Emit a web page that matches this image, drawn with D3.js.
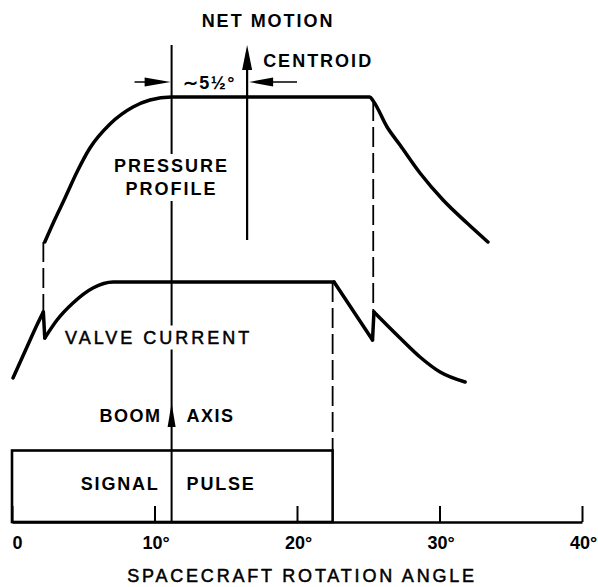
<!DOCTYPE html>
<html>
<head>
<meta charset="utf-8">
<script src="https://cdn.jsdelivr.net/npm/d3@7"></script>
<style>
  body { margin: 0; background: #fff; }
  svg text { font-family: "Liberation Sans", Arial, sans-serif; fill: #000; }
</style>
</head>
<body>
<svg></svg>
<script>
// rotation angles (deg) and relative levels (0..100)
const angleTicks = [0, 10, 20, 30, 40];
const pressureProfile = [
  [2.3, 56], [3.02, 60.6], [3.72, 64.8], [4.56, 70], [5.47, 74.8], [6.88, 79.6],
  [8.49, 83], [9.68, 84.4], [11.2, 85], [25.1, 85], [25.35, 84.2], [26.32, 79],
  [27.23, 75.4], [28.63, 69.8], [30.25, 64.4], [31.93, 59.8], [33.4, 56]
];
const valveCurrent = [
  [[0.07, 28.8], [1.05, 35], [1.75, 39.4], [2.2, 42]],
  [[2.2, 42], [2.3, 36.8]],
  [[2.3, 36.8], [3.16, 40.4], [4.28, 43.8], [5.68, 46.8], [7.09, 48], [22.6, 48]],
  [[22.6, 48], [25.3, 36.4]],
  [[25.3, 36.4], [25.4, 42]],
  [[25.4, 42], [27.23, 36.8], [28.63, 33], [30.04, 30], [31.8, 28]]
];
const pulseAngles = [0, 22.5];
const pulseLevel = 14.3;
const boomAngle = 11.2;
const centroidAngle = 16.5;
const topLevel = 95.4;
const centroidLow = 56.4;
const dimLevel = 88;
// dashed connectors: angle, from level, to level
const connectors = [[2.2, 56, 42], [22.5, 48, 14.3], [25.35, 84.2, 42]];

const svg = d3.select('svg');
const w = 598;
const h = 587;
svg.attr('width', w).attr('height', h);

const x = d3.scaleLinear().domain([0, 40]).range([12, 582]);
const y = d3.scaleLinear().domain([0, 100]).range([522, 22]);

const line = d3.line()
  .x((d) => x(d[0]))
  .y((d) => y(d[1]))
  .curve(d3.curveMonotoneX);

// dashed connectors
svg.selectAll('.conn')
  .data(connectors)
  .enter()
  .append('line')
  .attr('x1', (d) => x(d[0]))
  .attr('x2', (d) => x(d[0]))
  .attr('y1', (d) => y(d[1]))
  .attr('y2', (d) => y(d[2]))
  .attr('stroke', '#000')
  .attr('stroke-width', 1.8)
  .attr('stroke-dasharray', '20,6');

// boom axis and centroid lines
svg.append('line')
  .attr('x1', x(boomAngle)).attr('x2', x(boomAngle))
  .attr('y1', y(topLevel)).attr('y2', y(0))
  .attr('stroke', '#000').attr('stroke-width', 2);

svg.append('line')
  .attr('x1', x(centroidAngle)).attr('x2', x(centroidAngle))
  .attr('y1', y(topLevel) + 10).attr('y2', y(centroidLow))
  .attr('stroke', '#000').attr('stroke-width', 2.2);

// arrowheads: tip at (tx,ty), pointing along (dx,dy)
const head = (tx, ty, dx, dy, len, half) => {
  const bx = tx - dx * len;
  const by = ty - dy * len;
  return `M${tx},${ty}L${bx - dy * half},${by + dx * half}L${bx + dy * half},${by - dx * half}Z`;
};
svg.append('path').attr('d', head(x(centroidAngle), y(topLevel), 0, -1, 25, 5));
svg.append('path').attr('d', head(x(boomAngle), y(23.8), 0, -1, 24, 4));
svg.append('path').attr('d', head(x(boomAngle) - 1, y(dimLevel), 1, 0, 26, 4.5));
svg.append('path').attr('d', head(x(centroidAngle) + 2, y(dimLevel), -1, 0, 24, 4.5));

svg.append('line')
  .attr('x1', x(8.6)).attr('x2', x(boomAngle) - 20)
  .attr('y1', y(dimLevel)).attr('y2', y(dimLevel))
  .attr('stroke', '#000').attr('stroke-width', 1.5);
svg.append('line')
  .attr('x1', x(centroidAngle) + 20).attr('x2', x(20))
  .attr('y1', y(dimLevel)).attr('y2', y(dimLevel))
  .attr('stroke', '#000').attr('stroke-width', 1.5);

// curves
svg.append('path')
  .attr('d', line(pressureProfile))
  .attr('fill', 'none').attr('stroke', '#000')
  .attr('stroke-width', 3.5).attr('stroke-linecap', 'round');

svg.selectAll('.valve')
  .data(valveCurrent)
  .enter()
  .append('path')
  .attr('d', (d) => line(d))
  .attr('fill', 'none').attr('stroke', '#000')
  .attr('stroke-width', 3.5).attr('stroke-linecap', 'round')
  .attr('stroke-linejoin', 'round');

// signal pulse
svg.append('rect')
  .attr('x', x(pulseAngles[0]))
  .attr('y', y(pulseLevel))
  .attr('width', x(pulseAngles[1]) - x(pulseAngles[0]))
  .attr('height', y(0) - y(pulseLevel))
  .attr('fill', 'none').attr('stroke', '#000').attr('stroke-width', 2.6);

// axis
const axis = d3.axisBottom(x)
  .tickValues(angleTicks)
  .tickSizeInner(-16)
  .tickSizeOuter(0)
  .tickPadding(14)
  .tickFormat((d) => (d === 0 ? '0' : d + '°'));

const gx = svg.append('g')
  .attr('transform', `translate(0,${y(0)})`)
  .call(axis);
gx.select('.domain').attr('stroke', '#000').attr('stroke-width', 2.6);
gx.selectAll('.tick line').attr('stroke', '#000').attr('stroke-width', 2);
gx.selectAll('.tick text')
  .attr('fill', '#000')
  .attr('font-size', 18)
  .attr('font-weight', 'bold')
  .attr('font-family', '"Liberation Sans", Arial, sans-serif')
  .attr('dx', (d) => (d === 0 ? 5 : 1));

// labels
const label = (t, lx, ly, anchor, opts = {}) => {
  const g = svg.append('g');
  const txt = g.append('text')
    .attr('x', lx).attr('y', ly)
    .attr('text-anchor', anchor)
    .attr('font-size', opts.size || 18)
    .attr('font-weight', opts.weight || 'bold')
    .attr('letter-spacing', opts.ls || 1.5)
    .text(t);
  if (opts.weight === 'normal') {
    txt.attr('stroke', '#000').attr('stroke-width', 0.5);
  }
  if (opts.knock) {
    const b = txt.node().getBBox();
    g.insert('rect', 'text')
      .attr('x', b.x - 3).attr('y', b.y - 2)
      .attr('width', b.width + 6).attr('height', b.height + 4)
      .attr('fill', '#fff');
  }
  return txt;
};

label('NET MOTION', x(centroidAngle) + 21, 26.5, 'middle', { ls: 2 });
label('CENTROID', x(centroidAngle) + 16, 66.5, 'start', { ls: 2 });
label('∼5½°', (x(boomAngle) + x(centroidAngle)) / 2, 89, 'middle', { ls: 0 });
label('PRESSURE', x(boomAngle), 172, 'middle', { knock: true, ls: 2 });
label('PROFILE', x(boomAngle), 195, 'middle', { knock: true, ls: 2 });
label('VALVE CURRENT', 65, 343.5, 'start', { weight: 'normal', ls: 3, knock: true });
label('BOOM', x(boomAngle) - 10, 421.5, 'end', { ls: 1.5 });
label('AXIS', x(boomAngle) + 15, 421.5, 'start', { ls: 1.5 });
label('SIGNAL', x(boomAngle) - 12, 489.5, 'end', { ls: 1.8 });
label('PULSE', x(boomAngle) + 15, 489.5, 'start', { ls: 1.8 });
label('SPACECRAFT ROTATION ANGLE', 302, 582, 'middle', { weight: 'normal', ls: 2.8 });
</script>
</body>
</html>
